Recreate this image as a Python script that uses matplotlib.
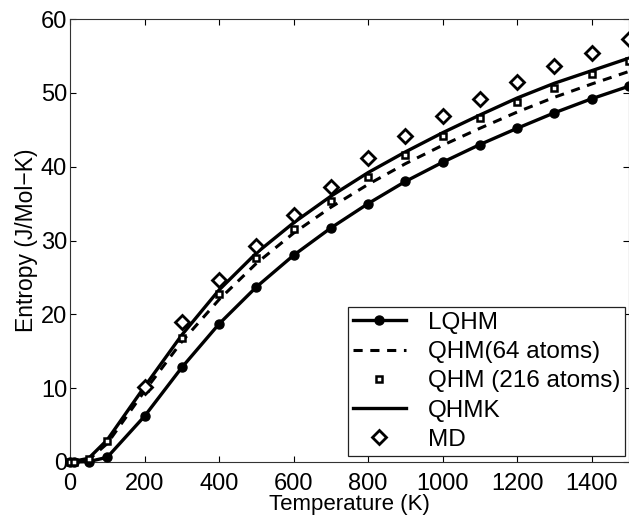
import matplotlib
matplotlib.use('Agg')
import matplotlib.pyplot as plt

# LQHM (line with filled circles)
t_lqhm = [0, 12, 50, 100, 200, 300, 400, 500, 600, 700, 800, 900, 1000,
          1100, 1200, 1300, 1400, 1500]
s_lqhm = [0.0, 0.0, 0.05, 0.64, 6.2, 12.8, 18.7, 23.7, 28.0, 31.7, 35.0,
          38.0, 40.6, 43.0, 45.2, 47.3, 49.2, 50.9]

# QHM(64 atoms), dashed
t_qhm64 = [0, 50, 100, 200, 300, 400, 500, 600, 700, 800, 900, 1000, 1100,
           1200, 1300, 1400, 1500]
s_qhm64 = [0.0, 0.3, 2.5, 9.6, 16.3, 22.0, 26.9, 31.0, 34.5, 37.6, 40.4,
           42.9, 45.2, 47.4, 49.4, 51.2, 52.9]

# QHM (216 atoms), squares
t_qhm216 = [0, 12, 50, 100, 200, 300, 400, 500, 600, 700, 800, 900, 1000,
            1100, 1200, 1300, 1400, 1500]
s_qhm216 = [0.0, 0.0, 0.4, 2.8, 10.0, 16.8, 22.7, 27.6, 31.6, 35.4, 38.6,
            41.6, 44.2, 46.6, 48.7, 50.6, 52.5, 54.3]

# QHMK, solid
t_qhmk = [0, 50, 100, 200, 300, 400, 500, 600, 700, 800, 900, 1000, 1100,
          1200, 1300, 1400, 1500]
s_qhmk = [0.0, 0.5, 3.0, 10.2, 17.2, 23.3, 28.3, 32.4, 36.0, 39.2, 42.0,
          44.6, 47.0, 49.3, 51.3, 53.0, 54.7]

# MD, diamonds
t_md = [200, 300, 400, 500, 600, 700, 800, 900, 1000, 1100, 1200,
        1300, 1400, 1500]
s_md = [10.1, 19.0, 24.6, 29.2, 33.5, 37.3, 41.2, 44.1, 46.9,
        49.2, 51.5, 53.6, 55.4, 57.3]

plt.rcParams['font.family'] = ['Liberation Sans', 'DejaVu Sans']

fig = plt.figure(figsize=(6.29, 5.19), dpi=100)
ax = fig.add_axes([70 / 629, 1 - 462 / 519, 559 / 629, 443 / 519])

ax.plot(t_lqhm, s_lqhm, '-', color='black', lw=2.4, marker='o', ms=6.5,
        label='LQHM', clip_on=False, zorder=3)
ax.plot(t_qhm64, s_qhm64, '--', color='black', lw=2.2, dashes=(3, 2.5),
        label='QHM(64 atoms)')
ax.plot(t_qhm216, s_qhm216, 's', color='black', mfc='white', mew=1.8, ms=5,
        linestyle='none', label='QHM (216 atoms)', clip_on=False, zorder=3)
ax.plot(t_qhmk, s_qhmk, '-', color='black', lw=2.4, label='QHMK')
ax.plot(t_md, s_md, 'D', color='black', mfc='white', mew=2.0, ms=7.5,
        linestyle='none', label='MD', clip_on=False, zorder=3)

ax.set_xlim(0, 1500)
ax.set_ylim(0, 60)
ax.set_xticks(range(0, 1401, 200))
ax.set_yticks(range(0, 61, 10))
ax.tick_params(direction='in', top=True, right=True, labelsize=17,
               length=4, width=0.8)
ax.tick_params(axis='x', pad=8)
ax.tick_params(axis='y', pad=2)
for sp in ax.spines.values():
    sp.set_linewidth(0.8)
    sp.set_color('#333333')

ax.set_xlabel('Temperature (K)', fontsize=16)
ax.xaxis.set_label_coords(0.5, -0.072)
ax.set_ylabel('Entropy (J/Mol\u2212K)', fontsize=16.5, labelpad=2)

leg = ax.legend(loc='lower right', bbox_to_anchor=(0.993, 0.014),
                numpoints=1, fontsize=17.5, frameon=True, fancybox=False,
                edgecolor='#222222', framealpha=1, borderpad=0.2,
                labelspacing=0.3, handlelength=2.2, handletextpad=0.9,
                borderaxespad=0)
leg.get_frame().set_linewidth(0.9)

fig.savefig('out.png', dpi=100)
